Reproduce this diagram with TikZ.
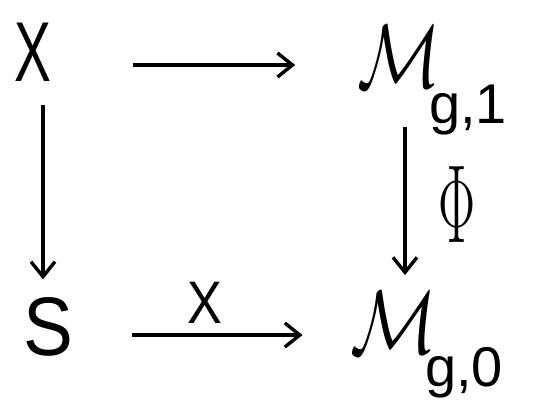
\documentclass[tikz,border=0pt]{standalone}
\usepackage{fix-cm}
\usepackage{fontspec}
\newfontfamily\hand{Liberation Sans}
\usetikzlibrary{arrows.meta}
\begin{document}
\begin{tikzpicture}[x=1pt,y=-1pt,
  arr/.style={-{Straight Barb[length=15pt,width=24pt,line width=3.4pt]}, line width=3.4pt},
  txt/.style={inner sep=0pt,font=\hand},
  cal/.style={inner sep=4pt,font=\fontsize{90}{90}\selectfont},
  sub/.style={inner sep=0pt,font=\hand\fontsize{56}{56}\selectfont}]
\useasboundingbox (0,0) rectangle (556,405);
\fill[white] (0,0) rectangle (556,405);
\node[txt] (X) at (33,52) {\fontsize{85}{85}\selectfont\scalebox{0.65}[1]{X}};
\node[txt] (S) at (48,327) {\fontsize{83}{83}\selectfont\scalebox{0.9}[1]{S}};
\node[cal] (m1) at (399,57) {\scalebox{0.77}[1]{$\mathcal{M}$}};
\node[sub] (m1s) at (468,110) {g,1};
\node[cal] (m0) at (394,323) {\scalebox{0.8}[1]{$\mathcal{M}$}};
\node[sub] (m0s) at (464,373) {g,0};
\draw[arr,shorten <=81pt,shorten >=58pt] ([yshift=-13pt]X.east) -- ([yshift=-8pt]m1.west);
\draw[arr,shorten <=59pt,shorten >=44pt] ([yshift=-8pt]S.east) -- ([yshift=-12pt]m0.west);
\draw[arr,line width=4.4pt,shorten <=24pt,shorten >=18pt] ([xshift=10pt]X.south) -- ([xshift=-5pt]S.north);
\draw[arr,shorten <=35pt,shorten >=13pt] ([xshift=6pt]m1.south) -- ([xshift=11pt]m0.north);
\node[txt] (phi) at (457,205) {\fontsize{111}{111}\selectfont\scalebox{0.5}[1]{$\Phi$}};
\node[txt] (xl) at (205,303) {\fontsize{60}{60}\selectfont\scalebox{0.87}[1]{X}};
\end{tikzpicture}
\end{document}
